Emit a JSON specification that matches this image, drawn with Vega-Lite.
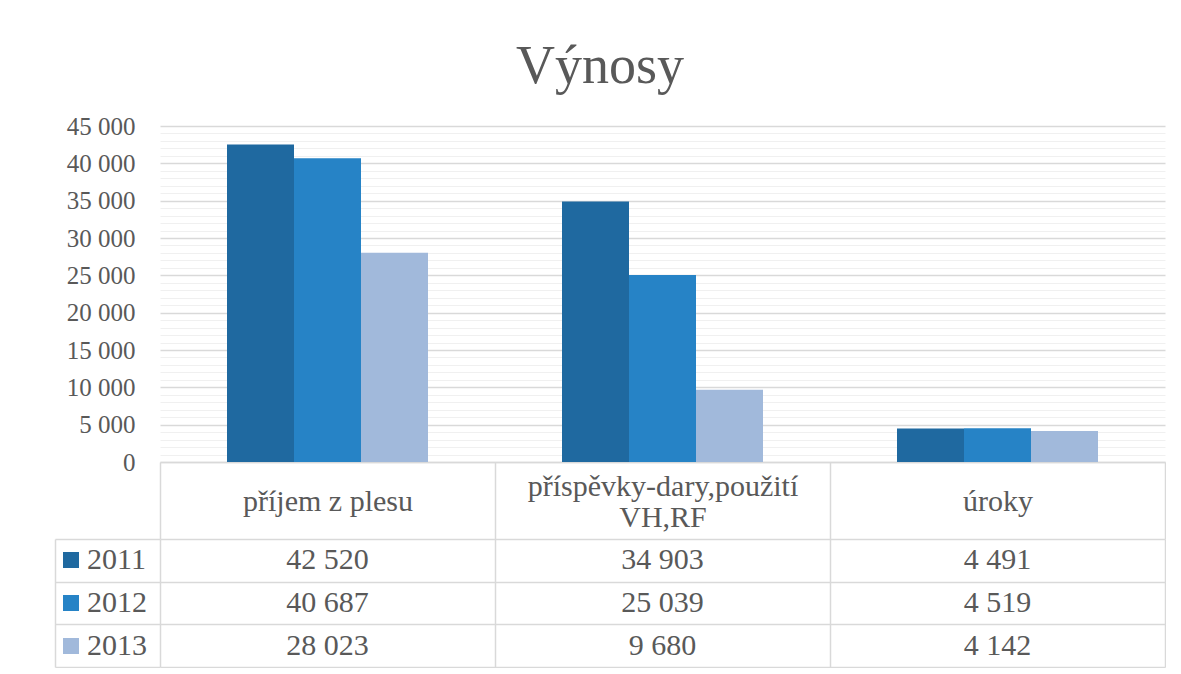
{
  "$schema": "https://vega.github.io/schema/vega-lite/v6.json",
  "padding": {"left": 54, "top": 40, "right": 0, "bottom": 0},
  "background": "white",
  "title": {"text": "Výnosy", "fontSize": 54, "font": "Liberation Serif", "fontWeight": "normal", "color": "#595959", "anchor": "middle", "dx": -10, "offset": 20},
  "data": {"values": [
    {"cat": "příjem z plesu", "year": "2011", "value": 42520},
    {"cat": "příjem z plesu", "year": "2012", "value": 40687},
    {"cat": "příjem z plesu", "year": "2013", "value": 28023},
    {"cat": "příspěvky-dary,použití VH,RF", "year": "2011", "value": 34903},
    {"cat": "příspěvky-dary,použití VH,RF", "year": "2012", "value": 25039},
    {"cat": "příspěvky-dary,použití VH,RF", "year": "2013", "value": 9680},
    {"cat": "úroky", "year": "2011", "value": 4491},
    {"cat": "úroky", "year": "2012", "value": 4519},
    {"cat": "úroky", "year": "2013", "value": 4142}
  ]},
  "bounds": "flush",
  "spacing": 77,
  "vconcat": [
    {
      "width": 1005,
      "height": 336,
      "mark": {"type": "bar"},
      "encoding": {
        "x": {"field": "cat", "type": "nominal", "sort": ["příjem z plesu", "příspěvky-dary,použití VH,RF", "úroky"],
          "scale": {"paddingInner": 0, "paddingOuter": 0},
          "axis": {"title": null, "grid": false, "domain": true, "domainColor": "#d9d9d9", "domainWidth": 1.5,
            "ticks": true, "tickBand": "extent", "tickSize": 77, "tickColor": "#d9d9d9", "tickWidth": 1.5,
            "labelAngle": 0, "labelBaseline": "middle",
            "labelPadding": {"condition": {"test": "datum.value == 'příspěvky-dary,použití VH,RF'", "value": -53}, "value": -38},
            "labelFontSize": 30, "labelLineHeight": 31,
            "labelFont": "Liberation Serif", "labelColor": "#595959", "labelLimit": 0,
            "labelExpr": "datum.label == 'příspěvky-dary,použití VH,RF' ? ['příspěvky-dary,použití', 'VH,RF'] : datum.label"}},
        "xOffset": {"field": "year", "type": "nominal", "scale": {"paddingInner": 0, "paddingOuter": 1}},
        "y": {"field": "value", "type": "quantitative", "scale": {"domain": [0, 45000], "nice": false},
          "axis": {"title": null, "domain": false, "ticks": false,
            "values": [0,1000,2000,3000,4000,5000,6000,7000,8000,9000,10000,11000,12000,13000,14000,15000,16000,17000,18000,19000,20000,21000,22000,23000,24000,25000,26000,27000,28000,29000,30000,31000,32000,33000,34000,35000,36000,37000,38000,39000,40000,41000,42000,43000,44000,45000],
            "format": ",d",
            "labelExpr": "datum.value % 5000 === 0 ? datum.label : ''",
            "labelOverlap": false, "labelFlush": false, "labelPadding": 25, "labelFontSize": 25,
            "labelFont": "Liberation Serif", "labelColor": "#595959",
            "gridColor": {"condition": {"test": "datum.value % 5000 === 0", "value": "#d9d9d9"}, "value": "#f0f0f0"},
            "gridWidth": {"condition": {"test": "datum.value % 5000 === 0", "value": 1.5}, "value": 1}}},
        "color": {"field": "year", "type": "nominal",
          "scale": {"domain": ["2011", "2012", "2013"], "range": ["#1f69a0", "#2683c6", "#a1b9db"]},
          "legend": {"title": null, "orient": "none", "legendX": -104, "legendY": 419, "symbolType": "square",
            "symbolSize": 256, "symbolStrokeWidth": 0, "labelFontSize": 30, "labelFont": "Liberation Serif",
            "labelColor": "#595959", "rowPadding": 13, "padding": 0, "labelOffset": 1}}
      }
    },
    {
      "width": 1005,
      "height": 128,
      "mark": {"type": "text", "fontSize": 30, "font": "Liberation Serif", "color": "#595959", "baseline": "middle"},
      "encoding": {
        "x": {"field": "cat", "type": "nominal", "sort": ["příjem z plesu", "příspěvky-dary,použití VH,RF", "úroky"],
          "scale": {"paddingInner": 0, "paddingOuter": 0},
          "axis": {"title": null, "labels": false, "ticks": false, "domain": false, "grid": true, "tickBand": "extent",
            "gridColor": "#d9d9d9", "gridWidth": 1.5}},
        "y": {"field": "year", "type": "nominal", "scale": {"paddingInner": 0, "paddingOuter": 0},
          "axis": {"title": null, "labels": false, "offset": 105, "domain": true, "domainColor": "#d9d9d9", "domainWidth": 1.5,
            "ticks": true, "tickSize": -105, "tickBand": "extent", "tickColor": "#d9d9d9", "tickWidth": 1.5,
            "grid": true, "gridColor": "#d9d9d9", "gridWidth": 1.5}},
        "text": {"field": "value", "type": "quantitative", "format": ",d"}
      }
    }
  ],
  "config": {
    "locale": {"number": {"decimal": ",", "thousands": " ", "grouping": [3], "currency": ["", " Kč"]}},
    "view": {"stroke": null},
    "font": "Liberation Serif"
  }
}
